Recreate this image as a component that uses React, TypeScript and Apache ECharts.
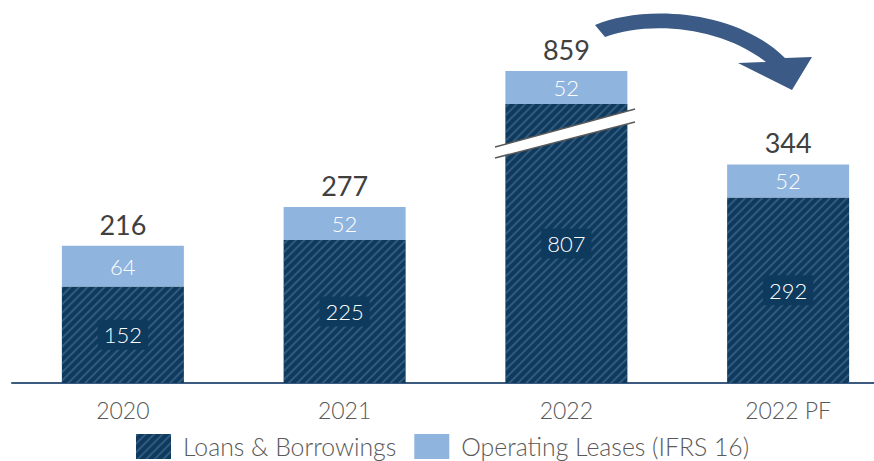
import React, { useEffect, useRef } from "react";
import * as echarts from "echarts";

const categories = ["2020", "2021", "2022", "2022 PF"];
const loans = [152, 225, 807, 292];
const leases = [64, 52, 52, 52];
const totals = [216, 277, 859, 344];
const seriesNames = ["Loans & Borrowings", "Operating Leases (IFRS 16)"];

const ARROW_D =
  "M595,25 C638,6 732,6 785,58 L812,57 L792,90 L738,63 L766,62 C722,27 650,20 605,37 Z";

export default function App() {
  const ref = useRef<HTMLDivElement>(null);
  useEffect(() => {
    if (!ref.current) return;
    try {
      echarts.graphic.registerShape("arrowShape", echarts.graphic.extendPath(ARROW_D, {}));
    } catch (e) {}
    const chart = echarts.init(ref.current, null, { renderer: "svg" });
    const font = "Lato, 'Open Sans', sans-serif";
    const fw = 300;
    const navy = "#0E3A5E";
    const light = "#8FB4DE";
    const decal = {
      symbol: "rect",
      symbolSize: 1,
      color: "rgba(100,132,168,0.42)",
      dashArrayX: [1, 0],
      dashArrayY: [1.1, 3.4],
      rotation: -Math.PI / 4,
    };
    chart.setOption({
      animation: false,
      textStyle: { fontFamily: font, fontWeight: fw },
      grid: { left: 12, right: 1, top: 45, bottom: 78 },
      legend: {
        data: seriesNames,
        left: 136,
        top: 434,
        padding: 0,
        icon: "rect",
        itemWidth: 35,
        itemHeight: 25,
        itemGap: 18,
        textStyle: {
          fontSize: 24.8,
          color: "#595959",
          fontFamily: font,
          fontWeight: fw,
          padding: [0, 0, 0, 7],
        },
      },
      xAxis: {
        type: "category",
        data: categories,
        axisLine: { lineStyle: { color: "#3D5A80", width: 2 } },
        axisTick: { show: false },
        axisLabel: { fontSize: 23, color: "#595959", margin: 15, fontFamily: font, fontWeight: fw },
      },
      yAxis: {
        type: "value",
        min: 0,
        max: 900,
        show: false,
        splitLine: { show: false },
        breaks: [{ start: 380, end: 768, gap: 20 }],
        breakArea: { show: false },
      },
      series: [
        {
          name: seriesNames[0],
          type: "bar",
          stack: "s",
          barWidth: 122,
          data: loans,
          itemStyle: { color: navy, decal },
          label: {
            show: true,
            position: "inside",
            color: "#fff",
            fontSize: 22,
            fontFamily: font,
            fontWeight: fw,
            backgroundColor: navy,
            padding: [4, 6],
          },
        },
        {
          name: seriesNames[1],
          type: "bar",
          stack: "s",
          data: leases,
          itemStyle: { color: light },
          label: {
            show: true,
            position: "inside",
            color: "#fff",
            fontSize: 22,
            fontFamily: font,
            fontWeight: fw,
          },
        },
        {
          name: "total",
          type: "bar",
          stack: "s",
          data: totals.map(() => 0),
          itemStyle: { color: "transparent" },
          label: {
            show: true,
            position: "top",
            distance: 8,
            color: "#404040",
            fontSize: 27,
            fontFamily: font,
            fontWeight: 400,
            formatter: (p: any) => String(totals[p.dataIndex]),
          },
        },
      ],
      graphic: [
        {
          type: "polygon",
          shape: { points: [[495, 147], [635, 109], [635, 122], [495, 158]] },
          style: { fill: "#fff" },
          z: 100,
        },
        {
          type: "line",
          shape: { x1: 495, y1: 147, x2: 635, y2: 109 },
          style: { stroke: "#595959", lineWidth: 1.5 },
          z: 101,
        },
        {
          type: "line",
          shape: { x1: 495, y1: 158, x2: 635, y2: 122 },
          style: { stroke: "#595959", lineWidth: 1.5 },
          z: 101,
        },
        {
          type: "arrowShape",
          x: 0,
          y: 0,
          style: { fill: "#3B5A85" },
          z: 100,
        },
      ],
    });
    return () => chart.dispose();
  }, []);
  return (
    <div
      style={{
        position: "absolute",
        left: 0,
        top: 0,
        width: 874,
        height: 461,
        overflow: "hidden",
      }}
    >
      <div ref={ref} style={{ width: 900, height: 461 }} />
    </div>
  );
}
